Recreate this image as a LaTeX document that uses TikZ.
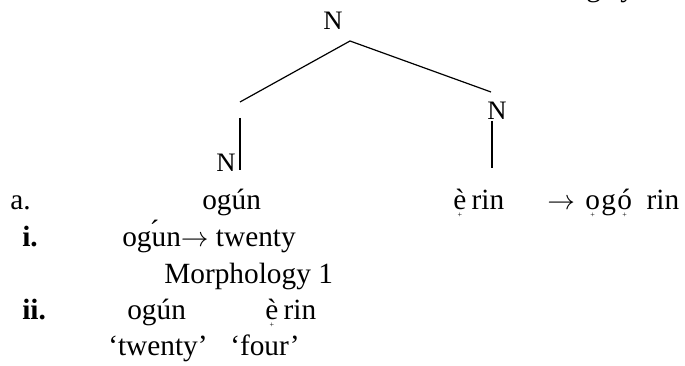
\documentclass[tikz,border=0pt]{standalone}
\usepackage{fontspec}
\setmainfont{Liberation Serif}
\newsavebox\udbox
\newcommand\ud[1]{\leavevmode\sbox\udbox{#1}\hbox to \wd\udbox{\hss\raisebox{-5.5pt}{\fontsize{6}{6}\selectfont +}\hss}\kern-\wd\udbox\usebox\udbox}
\newcommand\arr{$\rightarrow$}
\begin{document}
\begin{tikzpicture}[x=0.75pt,y=-0.75pt,
  txt/.style={inner sep=0pt,anchor=base west,font=\fontsize{22}{26}\selectfont},
  cat/.style={inner sep=0pt,anchor=base,font=\fontsize{20}{24}\selectfont},
  num/.style={txt,font=\fontsize{22}{26}\selectfont\bfseries},
  branch/.style={line width=0.9pt}]
\useasboundingbox (0,0) rectangle (685,366);
% cut-off header text at the top edge (only descenders show)
\node[txt] (hdrg) at (586,-3) {g};
\node[txt] (hdry) at (620,-3) {y};
% tree
\node[cat] (top) at (333,30) {N};
\node[cat] (nl) at (226,172) {N};
\node[cat] (nr) at (497,120) {N};
\coordinate (apex) at (350,41);
\coordinate (lend) at (240,102);
\coordinate (rend) at (491,92);
\coordinate (lvt) at (240,118);
\coordinate (lvb) at (240,170);
\coordinate (rvt) at (492,121);
\coordinate (rvb) at (492,168);
\draw[branch] (lend) -- (apex) -- (rend);
\draw[branch] (lvt) -- (lvb);
\draw[branch] (rvt) -- (rvb);
% line a
\node[txt] (a) at (10,210) {a.};
\node[txt] (oguna) at (202,210) {ogún};
\node[txt] (erina) at (453,210) {\ud{è}\hspace{4pt}rin};
\node[txt] (res) at (547,210) {\arr};
\node[txt] (ogorin) at (585,210) {\ud{o}\kern1pt g\kern1pt\ud{ó}\hspace{11pt}rin};
% line i
\node[num] (i) at (22,247) {i.};
\node[txt] (gloss1) at (122,247) {og\rlap{\kern-1.5pt\raisebox{5pt}{´}}un\arr{} twenty};
% Morphology 1
\node[txt] (morph) at (164,284) {Morphology 1};
% line ii
\node[num] (ii) at (22,320) {ii.};
\node[txt] (ogunb) at (127,320) {ogún};
\node[txt] (erinb) at (265,320) {\ud{è}\hspace{4pt}rin};
\node[txt] (tw) at (108,356) {‘twenty’};
\node[txt] (four) at (230,356) {‘four’};
\end{tikzpicture}
\end{document}
